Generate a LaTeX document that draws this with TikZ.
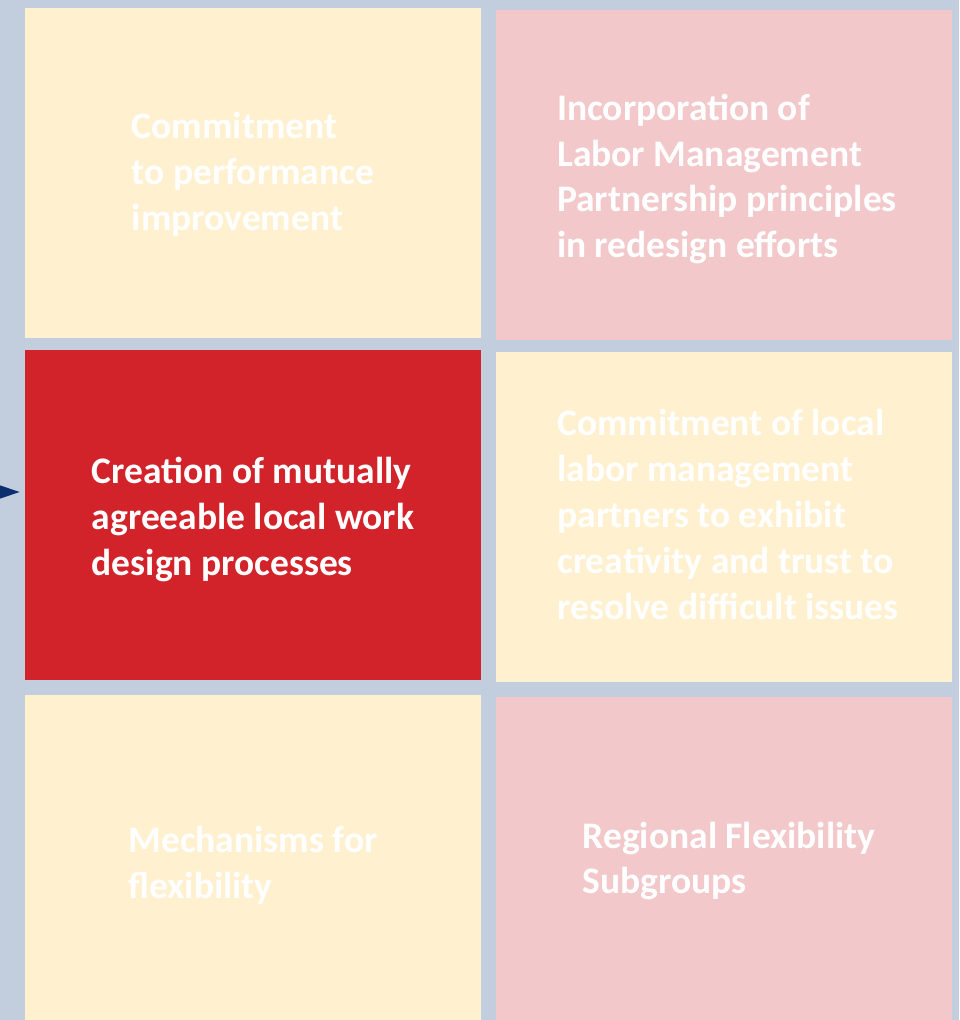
\documentclass[tikz,border=0pt]{standalone}
\usepackage{fontspec}
\setmainfont{Carlito}
\usetikzlibrary{arrows.meta}
\definecolor{bgblue}{HTML}{C2CEDD}
\definecolor{cream}{HTML}{FFF1CF}
\definecolor{rose}{HTML}{F2C8CA}
\definecolor{brick}{HTML}{D2222A}
\definecolor{navy}{HTML}{0A2F6E}
\tikzset{
  cell/.style={rectangle, minimum width=456pt, minimum height=330pt, inner sep=0pt},
  celltext/.style={inner sep=0pt, align=left, text=white,
    font=\fontsize{37.5}{45.8}\selectfont\bfseries},
  feedarrow/.style={navy, line width=3pt, -{Triangle[length=25pt,width=16pt]}, shorten >=5pt}
}

\begin{document}
\begin{tikzpicture}[x=1pt, y=-1pt]
			%%%%% START %%%%%
			
			\fill[bgblue] (0, 0) rectangle (959, 1020);
			\useasboundingbox (0, 0) rectangle (959, 1020);
			
			% boxes
			\node[cell, fill=cream] (perf) at (253, 173) {};
			\node[cell, fill=rose] (lmp) at (724, 175) {};
			\node[cell, fill=brick] (creat) at (253, 515) {};
			\node[cell, fill=cream] (trust) at (724, 517) {};
			\node[cell, fill=cream] (mech) at (253, 860) {};
			\node[cell, fill=rose] (regional) at (724, 862) {};
			
			% texts
			\node[celltext] (perf text) at ([shift={(0, 1.5)}]perf.center) {Commitment\\to performance\\improvement};
			\node[celltext] (lmp text) at ([shift={(3, 4)}]lmp.center) {Incorporation of\\Labor Management\\Partnership principles\\in redesign efforts};
			\node[celltext] (creat text) at ([shift={(0, 4.5)}]creat.center) {Creation of mutually\\agreeable local work\\design processes};
			\node[celltext] (trust text) at ([shift={(4, -2.5)}]trust.center) {Commitment of local\\labor management\\partners to exhibit\\creativity and trust to\\resolve difficult issues};
			\node[celltext] (mech text) at ([shift={(0, 5.5)}]mech.center) {Mechanisms for\\flexibility};
			\node[celltext] (regional text) at ([shift={(5, -1)}]regional.center) {Regional Flexibility\\Subgroups};
			
			\coordinate (feed) at (-40, 492);
			\draw[feedarrow] (feed) -- (feed -| creat.west);
			
			%%%%% END %%%%%
\end{tikzpicture}
\end{document}
